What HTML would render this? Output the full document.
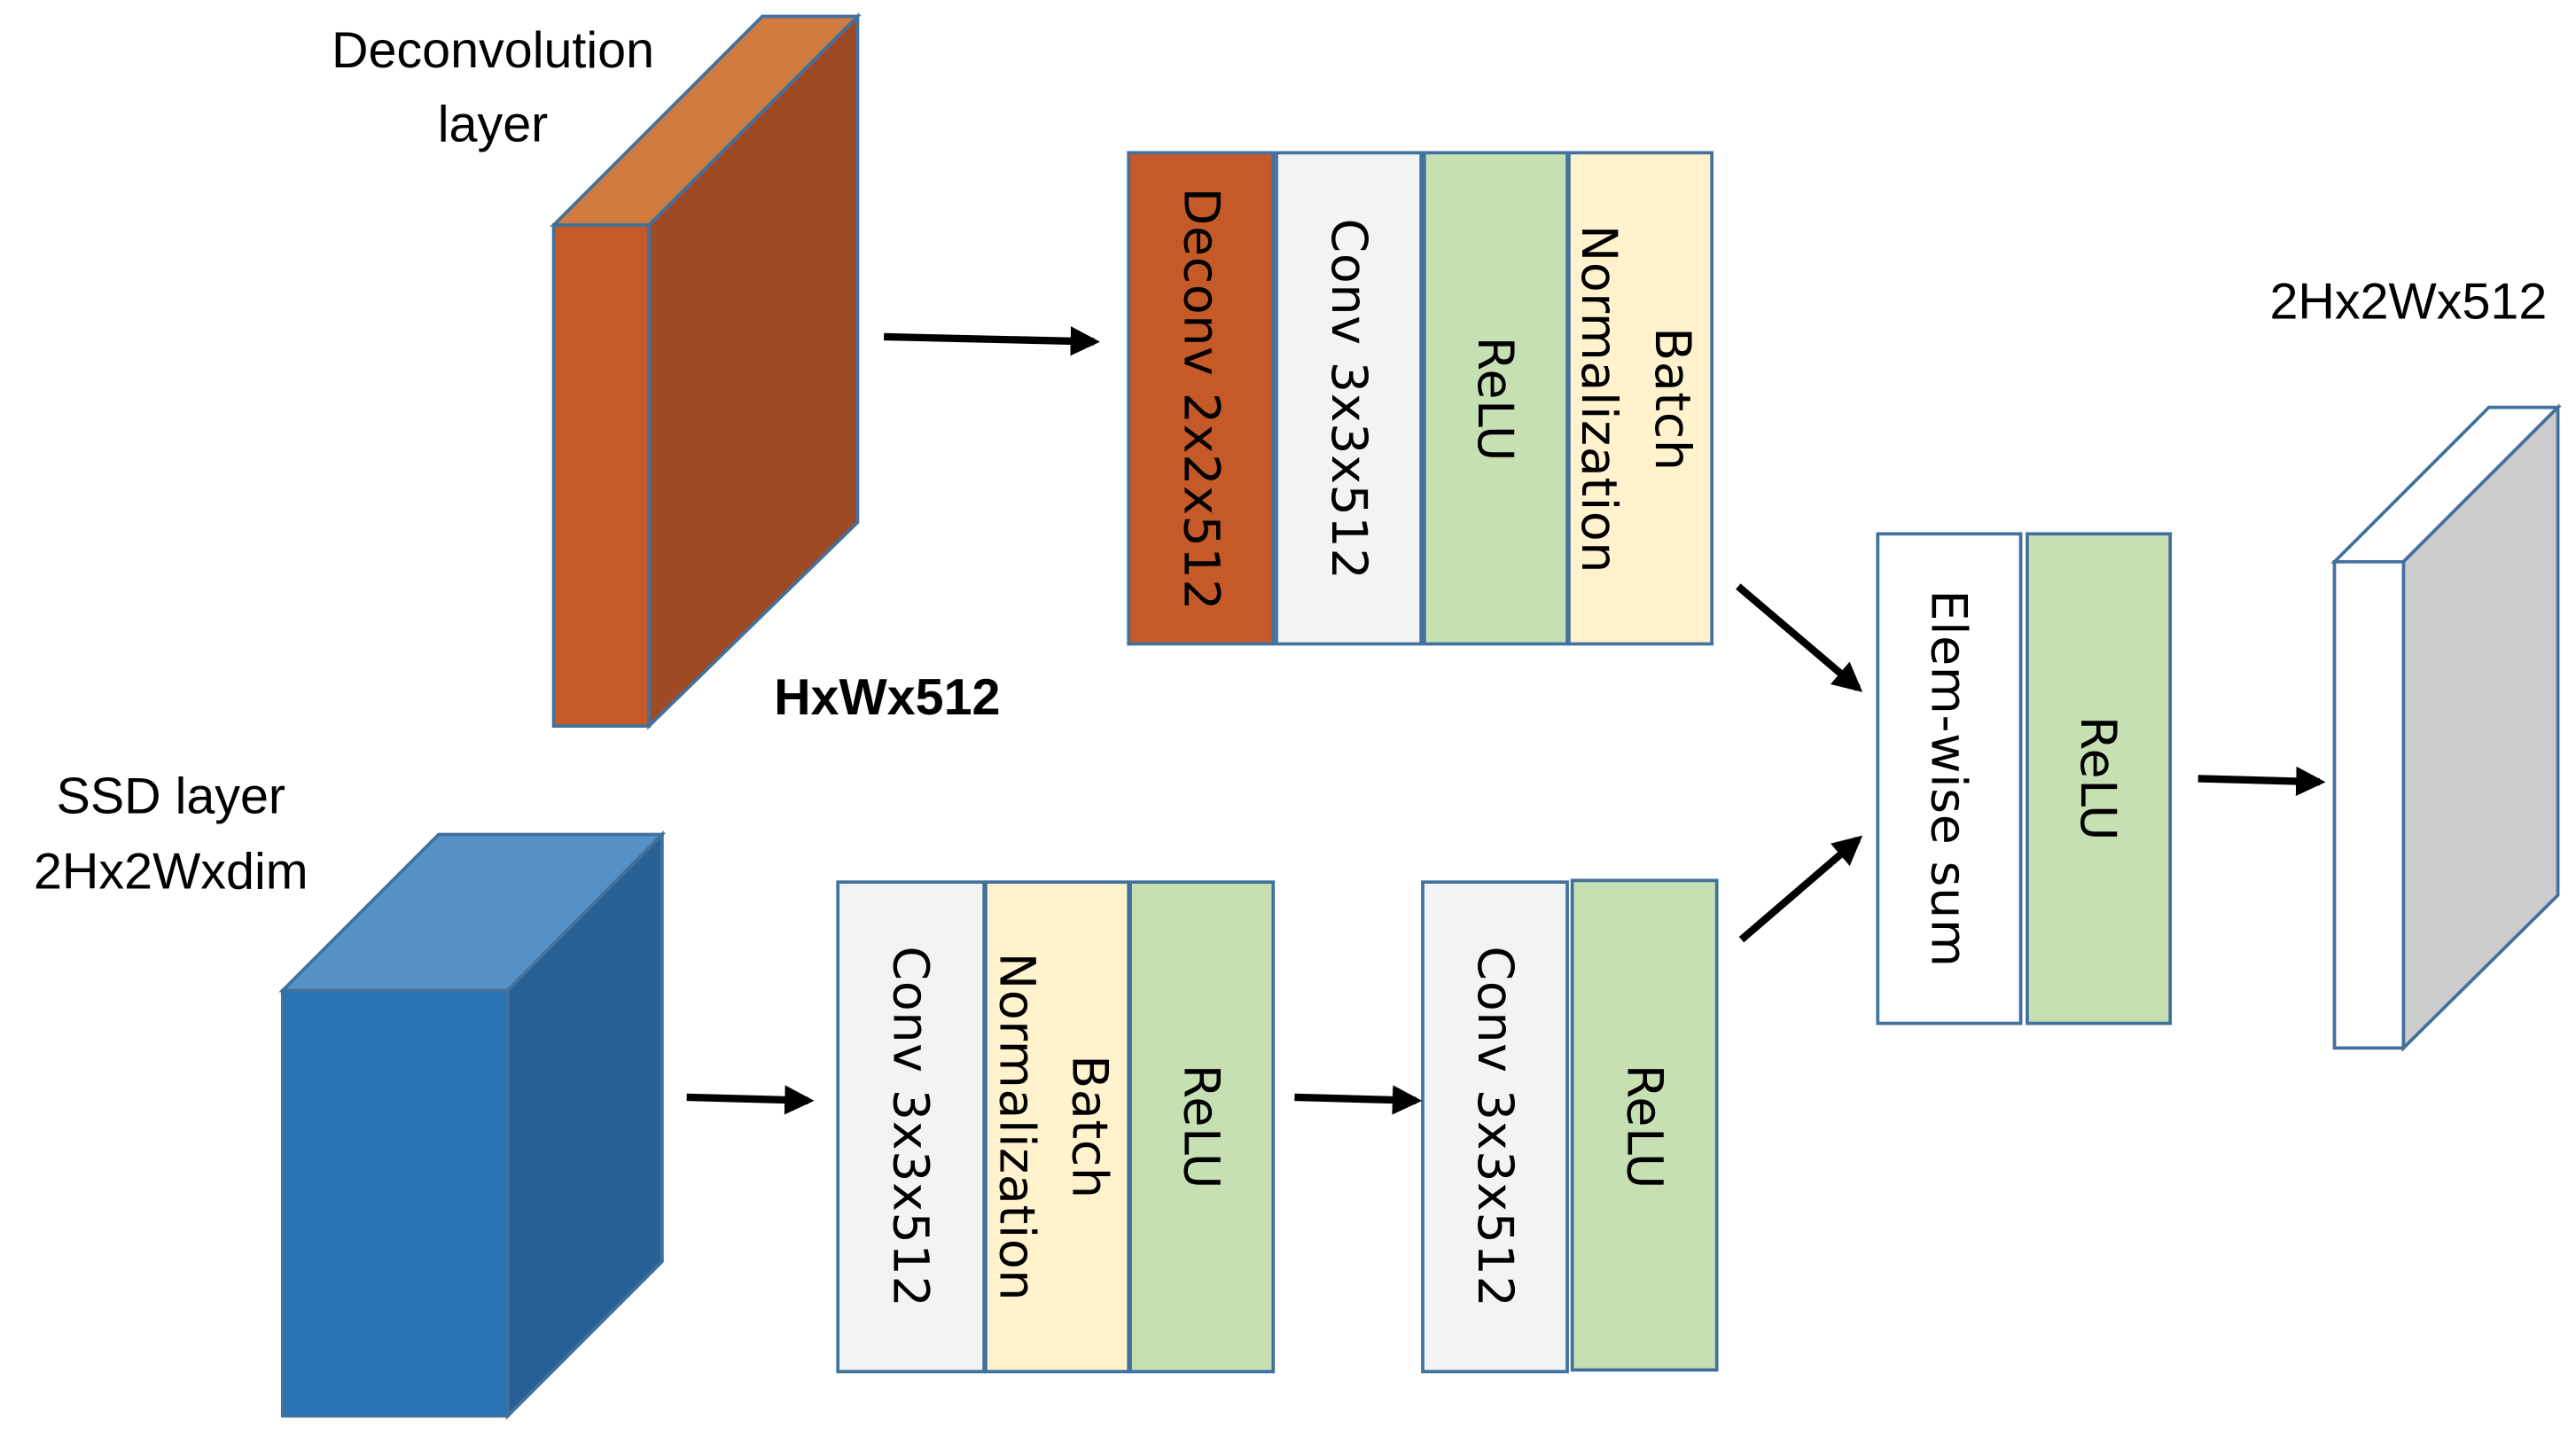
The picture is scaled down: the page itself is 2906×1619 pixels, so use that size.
<!DOCTYPE html>
<html><head><meta charset="utf-8"><style>html,body{margin:0;padding:0;background:#fff}svg{display:block}</style></head>
<body>
<svg width="2906" height="1619" viewBox="0 0 1568 873.6" xmlns="http://www.w3.org/2000/svg">
<defs>
<marker id="ah" markerWidth="4" markerHeight="4" refX="3.2" refY="2" orient="auto" markerUnits="strokeWidth">
<path d="M0,0 L4,2 L0,4 z" fill="#000"/>
</marker>
</defs>
<g stroke="#41719C" stroke-width="2" stroke-linejoin="miter">
<polygon points="337,137 464,10 522,10 395,137" fill="#D07B40"/>
<polygon points="395,137 522,10 522,318 395,442" fill="#9E4A25"/>
<rect x="337" y="137" width="58" height="305" fill="#C55A28"/>
<polygon points="172,603 267,508 403,508 309,603" fill="#5591C5"/>
<polygon points="309,603 403,508 403,768 309,862" fill="#276195"/>
<rect x="172" y="603" width="137" height="259" fill="#2874B4"/>
<polygon points="1421,342 1515,248 1557,248 1463,342" fill="#fff"/>
<polygon points="1463,342 1557,248 1557,545 1463,638" fill="#CCCCCC"/>
<rect x="1421" y="342" width="42" height="296" fill="#fff"/>
<rect x="687" y="93" width="88" height="299" fill="#C55A28"/>
<rect x="777" y="93" width="88" height="299" fill="#F2F4F3"/>
<rect x="867" y="93" width="87" height="299" fill="#C6E0B4"/>
<rect x="955" y="93" width="87" height="299" fill="#FFF2CC"/>
<rect x="510" y="537" width="89" height="298" fill="#F2F4F3"/>
<rect x="600" y="537" width="87" height="298" fill="#FFF2CC"/>
<rect x="688" y="537" width="87" height="298" fill="#C6E0B4"/>
<rect x="866" y="537" width="88" height="298" fill="#F2F4F3"/>
<rect x="957" y="536" width="88" height="298" fill="#C6E0B4"/>
<rect x="1143" y="325" width="87" height="298" fill="#fff"/>
<rect x="1234" y="325" width="87" height="298" fill="#C6E0B4"/>
</g>
<g stroke="#000" stroke-width="4.5" marker-end="url(#ah)" fill="none">
<line x1="538" y1="205" x2="666" y2="208"/>
<line x1="418" y1="668" x2="492" y2="670"/>
<line x1="788" y1="668" x2="862" y2="670"/>
<line x1="1060" y1="572" x2="1131" y2="511"/>
<line x1="1058" y1="357" x2="1131" y2="419"/>
<line x1="1338" y1="474" x2="1412" y2="476"/>
</g>
<g font-family="Liberation Sans, sans-serif" font-size="31" fill="#000" text-anchor="middle">
<text x="300" y="41">Deconvolution</text>
<text x="300" y="86">layer</text>
<text x="540" y="435" font-weight="bold">HxWx512</text>
<text x="104" y="495">SSD layer</text>
<text x="104" y="541">2Hx2Wxdim</text>
<text x="1466" y="194">2Hx2Wx512</text>
</g>
<g font-family="DejaVu Sans, sans-serif" font-size="30" letter-spacing="0.3" fill="#000" text-anchor="middle" dominant-baseline="central">
<text transform="translate(731,243) rotate(90)">Deconv 2x2x512</text>
<text transform="translate(821,243) rotate(90)">Conv 3x3x512</text>
<text transform="translate(910,243) rotate(90)">ReLU</text>
<text transform="translate(1018,243) rotate(90)">Batch</text>
<text transform="translate(973,243) rotate(90)">Normalization</text>
<text transform="translate(554,686) rotate(90)">Conv 3x3x512</text>
<text transform="translate(663,686) rotate(90)">Batch</text>
<text transform="translate(619,686) rotate(90)">Normalization</text>
<text transform="translate(731,686) rotate(90)">ReLU</text>
<text transform="translate(910,686) rotate(90)">Conv 3x3x512</text>
<text transform="translate(1001,686) rotate(90)">ReLU</text>
<text transform="translate(1186,474) rotate(90)">Elem-wise sum</text>
<text transform="translate(1277,474) rotate(90)">ReLU</text>
</g>
</svg>
</body></html>
